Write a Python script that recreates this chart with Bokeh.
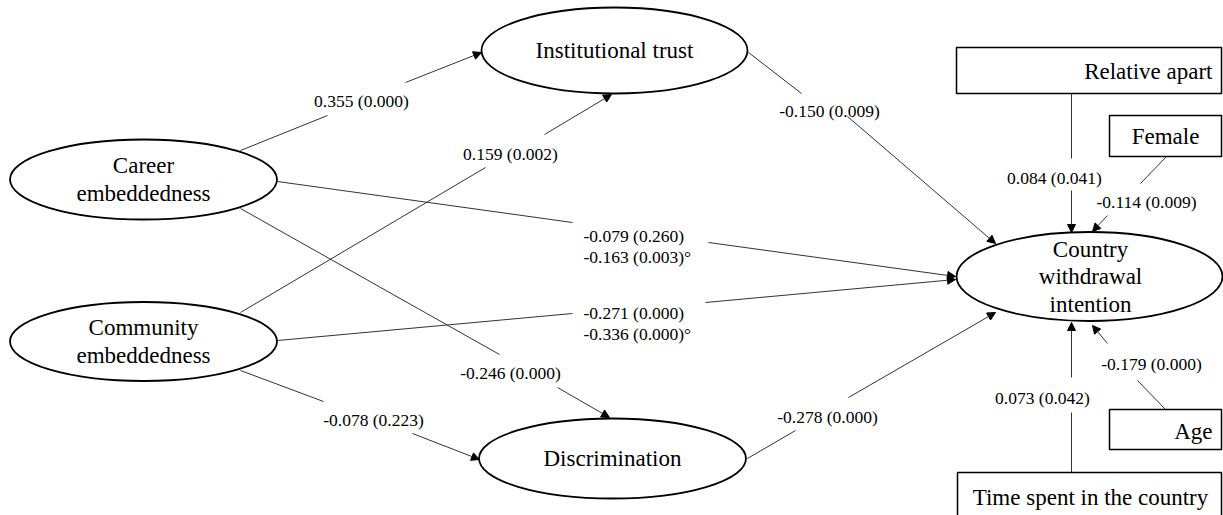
from bokeh.plotting import figure
from bokeh.models import Range1d, Arrow, NormalHead
from bokeh.core.properties import value
from bokeh.embed import file_html
from bokeh.resources import INLINE

# ---------------- data ----------------
latent_names = ["Career embeddedness", "Community embeddedness", "Institutional trust",
                "Discrimination", "Country withdrawal intention"]
latent_lines = [["Career", "embeddedness"], ["Community", "embeddedness"], ["Institutional trust"],
                ["Discrimination"], ["Country", "withdrawal", "intention"]]
control_names = ["Relative apart", "Female", "Age", "Time spent in the country"]

path_from = ["Career embeddedness", "Community embeddedness", "Institutional trust",
             "Career embeddedness", "Community embeddedness", "Career embeddedness",
             "Community embeddedness", "Discrimination", "Relative apart", "Female",
             "Age", "Time spent in the country"]
path_to = ["Institutional trust", "Institutional trust", "Country withdrawal intention",
           "Country withdrawal intention", "Country withdrawal intention", "Discrimination",
           "Discrimination", "Country withdrawal intention", "Country withdrawal intention",
           "Country withdrawal intention", "Country withdrawal intention",
           "Country withdrawal intention"]
path_beta = [0.355, 0.159, -0.150, -0.079, -0.271, -0.246, -0.078, -0.278, 0.084, -0.114, -0.179, 0.073]
path_p = [0.000, 0.002, 0.009, 0.260, 0.000, 0.000, 0.223, 0.000, 0.041, 0.009, 0.000, 0.042]
# second estimates (°) for the two direct paths
alt_beta = {3: -0.163, 4: -0.336}
alt_p = {3: 0.003, 4: 0.000}

# ---------------- layout (pixel-like coordinates, y downward) ----------------
ell_xy = {"Career embeddedness": (143, 179, 267, 80),
          "Community embeddedness": (143, 341, 267, 79),
          "Institutional trust": (614, 50, 266, 86),
          "Discrimination": (612, 458, 267, 80),
          "Country withdrawal intention": (1089, 276, 266, 89)}
ell_text_x = {"Country withdrawal intention": 1090}
line_gap = 27.5

box_lrtb = {"Relative apart": (956, 1221, 47, 93),
            "Female": (1109, 1221, 115, 156),
            "Age": (1109, 1221, 409, 449),
            "Time spent in the country": (957, 1221, 472, 540)}
box_text = {"Relative apart": (1212, 71, "right"),
            "Female": (1165, 136, "center"),
            "Age": (1212, 431, "right"),
            "Time spent in the country": (1090, 497, "center")}

# seg1 (x0,y0,x1,y1), seg2 (x0,y0,x1,y1 arrow tip), label (x, y, align)
path_geom = [
    ((240, 150, 327, 115), (405, 82, 481, 52), (361, 100, "center")),
    ((240, 312, 485, 167), (544, 134, 611, 94), (510, 153, "center")),
    ((748, 52, 801, 93), (847, 116, 995, 243), (829, 110, "center")),
    ((277, 181, 572, 222), (708, 242, 955, 276), (583, 235, "left")),
    ((277, 340, 572, 313), (705, 302, 955, 279), (583, 312, "left")),
    ((240, 208, 499, 354), (557, 387, 609, 417), (510, 372, "center")),
    ((240, 370, 323, 401), (412, 433, 479, 459), (373, 419, "center")),
    ((747, 458, 795, 430), (848, 397, 995, 312), (827, 416, "center")),
    ((1071, 93, 1071, 158), (1071, 190, 1071, 232), (1054, 177, "center")),
    ((1166, 156, 1140, 183), (1107, 215, 1092, 231), (1146, 201, "center")),
    ((1165, 409, 1137, 380), (1107, 343, 1092, 325), (1151, 363, "center")),
    ((1071, 472, 1071, 412), (1071, 377, 1071, 322), (1042, 397, "center")),
]
alt_dy = 21

FONT = value("Liberation Serif")
NODE_SIZE = value("23px")
EDGE_SIZE = value("17.5px")
EDGE_COLOR = "#333333"

W, H = 1223, 515
p = figure(width=W, height=H, output_backend="svg", toolbar_location=None,
           x_range=Range1d(0, W), y_range=Range1d(H, 0),
           x_axis_location=None, y_axis_location=None, min_border=0)
p.grid.visible = False
p.outline_line_color = None
p.background_fill_color = "white"

# path lines
for i, (s1, s2, lab) in enumerate(path_geom):
    p.segment(x0=[s1[0]], y0=[s1[1]], x1=[s1[2]], y1=[s1[3]], line_color=EDGE_COLOR, line_width=1)
    p.add_layout(Arrow(end=NormalHead(size=8, fill_color="black", line_color="black", line_width=1),
                       x_start=s2[0], y_start=s2[1], x_end=s2[2], y_end=s2[3],
                       line_color=EDGE_COLOR, line_width=1))

# latent ellipses
p.ellipse(x=[ell_xy[n][0] for n in latent_names], y=[ell_xy[n][1] for n in latent_names],
          width=[ell_xy[n][2] for n in latent_names], height=[ell_xy[n][3] for n in latent_names],
          fill_color="white", line_color="black", line_width=1.8)

# observed control boxes
p.quad(left=[box_lrtb[n][0] for n in control_names], right=[box_lrtb[n][1] for n in control_names],
       top=[box_lrtb[n][2] for n in control_names], bottom=[box_lrtb[n][3] for n in control_names],
       fill_color="white", line_color="black", line_width=1.5)

# latent labels
tx, ty, tt = [], [], []
for n, lines in zip(latent_names, latent_lines):
    cx, cy = ell_text_x.get(n, ell_xy[n][0]), ell_xy[n][1]
    k = len(lines)
    for j, ln in enumerate(lines):
        tx.append(cx)
        ty.append(cy + (j - (k - 1) / 2) * line_gap)
        tt.append(ln)
p.text(x=tx, y=ty, text=tt, text_font=FONT, text_font_size=NODE_SIZE, text_color="black",
       text_align="center", text_baseline="middle")

# box labels
for n in control_names:
    bx, by, al = box_text[n]
    p.text(x=[bx], y=[by], text=[n], text_font=FONT, text_font_size=NODE_SIZE, text_color="black",
           text_align=al, text_baseline="middle")

# path coefficient labels
for i, (s1, s2, lab) in enumerate(path_geom):
    lx, ly, al = lab
    txt = f"{path_beta[i]:.3f} ({path_p[i]:.3f})"
    p.text(x=[lx], y=[ly], text=[txt], text_font=FONT, text_font_size=EDGE_SIZE, text_color="black",
           text_align=al, text_baseline="middle")
    if i in alt_beta:
        txt2 = f"{alt_beta[i]:.3f} ({alt_p[i]:.3f})°"
        p.text(x=[lx], y=[ly + alt_dy], text=[txt2], text_font=FONT, text_font_size=EDGE_SIZE,
               text_color="black", text_align=al, text_baseline="middle")

open("out.html", "w").write(file_html(p, INLINE))
